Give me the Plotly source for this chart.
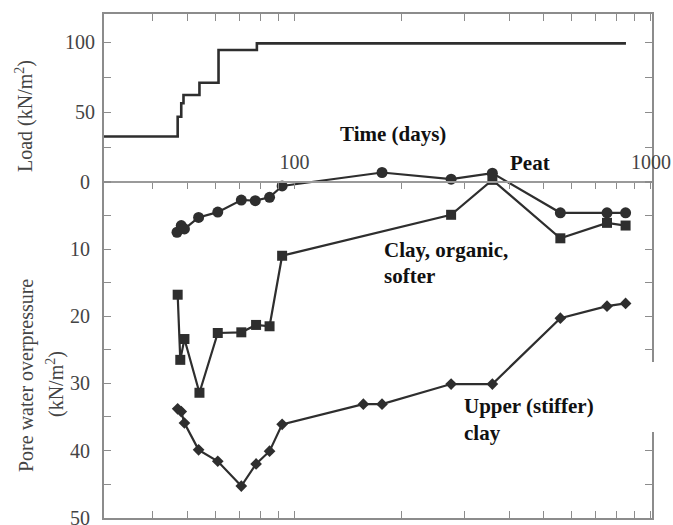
import math
import plotly.graph_objects as go

# ---- data -------------------------------------------------------------
# applied load (step history)
t_load = [29.2, 47.0, 48.1, 48.8, 54.1, 61.2, 78.4, 851]
load = [32.5, 46.6, 56.2, 62.1, 70.9, 94.3, 99.0, 99.0]

# pore water overpressure, kN/m2
t_peat = [46.8, 48.1, 49.1, 53.8, 60.9, 70.9, 77.6, 85.1, 92.3, 176, 275, 359, 557, 753, 849]
u_peat = [7.5, 6.5, 7.0, 5.3, 4.5, 2.7, 2.8, 2.3, 0.6, -1.4, -0.4, -1.3, 4.6, 4.6, 4.6]

t_clay = [47.0, 47.8, 49.1, 54.1, 60.9, 70.9, 78.0, 85.1, 92.3, 275, 359, 557, 753, 849]
u_clay = [16.8, 26.5, 23.4, 31.4, 22.5, 22.4, 21.3, 21.5, 11.0, 4.9, -0.3, 8.4, 6.1, 6.5]

t_upper = [47.0, 48.1, 49.1, 53.8, 60.9, 70.9, 78.0, 85.1, 92.3, 156, 176, 275, 359, 557, 753, 849]
u_upper = [33.8, 34.2, 35.9, 39.9, 41.6, 45.3, 42.0, 40.1, 36.1, 33.1, 33.1, 30.1, 30.1, 20.3, 18.5, 18.1]

time_ticks = [40, 50, 60, 70, 80, 90, 100, 200, 300, 400, 500, 600, 700, 800, 900, 1000]
time_labels = ["100", "1000"]
pore_ticks = [0, 5, 10, 15, 20, 25, 30, 35, 40, 45, 50]
load_ticks = [0, 25, 50, 75, 100]

# ---- geometry -----------------------------------------------------------
W, H = 673, 525
L, R, T, B = 104, 21, 14, 7
PW, PH = W - L - R, H - T - B


def px(x):
    return (x - L) / PW


def py(y):
    return (H - B - y) / PH


x_range = [math.log10(29.2), 3.003]
pore_range = [50.05, -25]
load_range = [-240, 120]
zero_pos = py(182)

LINE = "#2e2e2e"
AX = "#8c8c8c"
TICKC = "#444444"
SERIF = "Liberation Serif, Times New Roman, serif"

fig = go.Figure()

fig.add_trace(go.Scatter(
    x=t_load, y=load, xaxis="x2", yaxis="y2", mode="lines",
    line=dict(color=LINE, width=2.6, shape="hv"), showlegend=False))

fig.add_trace(go.Scatter(
    x=t_peat, y=u_peat, mode="lines+markers",
    line=dict(color=LINE, width=2.2),
    marker=dict(symbol="circle", size=11, color=LINE), showlegend=False))

fig.add_trace(go.Scatter(
    x=t_clay, y=u_clay, mode="lines+markers",
    line=dict(color=LINE, width=2.2),
    marker=dict(symbol="square", size=10, color=LINE), showlegend=False))

fig.add_trace(go.Scatter(
    x=t_upper, y=u_upper, mode="lines+markers",
    line=dict(color=LINE, width=2.2),
    marker=dict(symbol="diamond", size=9, color=LINE), showlegend=False))

# placeholder traces so the frame-only axes (top / right ticks) are laid out
for xa, ya in (("x3", "y"), ("x", "y3"), ("x", "y4")):
    fig.add_trace(go.Scatter(x=[None], y=[None], xaxis=xa, yaxis=ya,
                             mode="lines", showlegend=False, hoverinfo="skip"))

tick_font = dict(family=SERIF, size=20, color=TICKC)
base = dict(ticks="inside", tickcolor=AX, tickwidth=1.4, showgrid=False,
            zeroline=False, ticklabeloverflow="allow", automargin=False)

fig.update_layout(
    width=W, height=H,
    margin=dict(l=L, r=R, t=T, b=B, pad=0),
    paper_bgcolor="white", plot_bgcolor="white",
    xaxis=dict(
        type="log", range=x_range, showline=True, linecolor=AX, linewidth=2,
        mirror=True, ticklen=7, tickvals=time_ticks, showticklabels=False,
        **base),
    xaxis2=dict(
        type="log", range=x_range, overlaying="x", anchor="free",
        position=zero_pos, side="top",
        showline=True, linecolor="#9a9a9a", linewidth=2.2, ticklen=6,
        tickvals=time_ticks,
        ticktext=[str(v) if str(v) in time_labels else "" for v in time_ticks],
        tickfont=tick_font, ticklabelstandoff=4, **base),
    xaxis3=dict(
        type="log", range=x_range, overlaying="x", anchor="y", side="top",
        showline=False, ticklen=7, tickvals=time_ticks, showticklabels=False,
        **base),
    yaxis=dict(
        range=pore_range, showline=True, linecolor=AX, linewidth=2,
        mirror=True, ticklen=7, tickvals=pore_ticks,
        ticktext=[str(v) if v % 10 == 0 else "" for v in pore_ticks],
        tickfont=tick_font, ticklabelstandoff=8, **base),
    yaxis2=dict(
        range=load_range, overlaying="y", anchor="x", side="left",
        showline=False, ticklen=7, tickvals=load_ticks,
        ticktext=[str(v) if v in (50, 100) else "" for v in load_ticks],
        tickfont=tick_font, ticklabelstandoff=8, **base),
    yaxis3=dict(
        range=pore_range, overlaying="y", anchor="x", side="right",
        showline=False, ticklen=7, tickvals=pore_ticks, showticklabels=False,
        **base),
    yaxis4=dict(
        range=load_range, overlaying="y", anchor="x", side="right",
        showline=False, ticklen=7, tickvals=load_ticks, showticklabels=False,
        **base),
)

# white patch over a piece of the right-hand frame
fig.add_shape(type="rect", xref="paper", yref="paper",
              x0=px(600), x1=px(665), y0=py(432), y1=py(362),
              fillcolor="white", line=dict(width=0), layer="above")

label_font = dict(family=SERIF, size=21, color="#111111")
notes = [
    ("<b>Time (days)</b>", 393, 134, "center"),
    ("<b>Peat</b>", 508, 163, "left"),
    ("<b>Clay, organic,</b>", 382, 250, "left"),
    ("<b>softer</b>", 382, 276, "left"),
    ("<b>Upper (stiffer)</b>", 462, 406, "left"),
    ("<b>clay</b>", 462, 433, "left"),
]
for text, x, y, anchor in notes:
    fig.add_annotation(text=text, x=px(x), y=py(y), xref="paper", yref="paper",
                       xanchor=anchor, yanchor="middle", showarrow=False,
                       font=label_font)

title_font = dict(family=SERIF, size=20, color="#444444")
titles = [
    ("Load (kN/m<sup>2</sup>)", 25, 116),
    ("Pore water overpressure", 26, 376),
    ("(kN/m<sup>2</sup>)", 55, 384),
]
for text, x, y in titles:
    fig.add_annotation(text=text, x=px(x), y=py(y), xref="paper", yref="paper",
                       xanchor="center", yanchor="middle", showarrow=False,
                       textangle=-90, font=title_font)

fig.write_html("out.html")
